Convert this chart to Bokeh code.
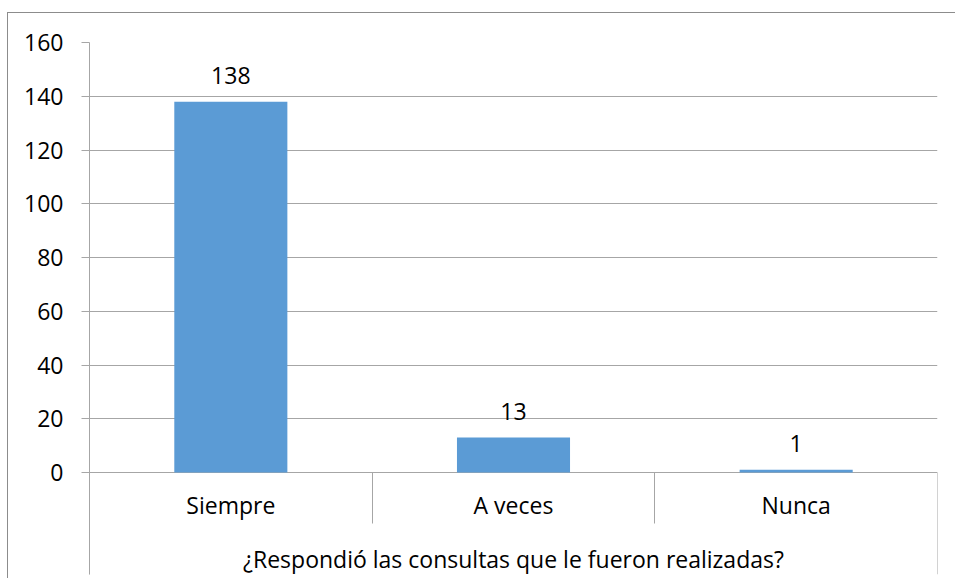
from bokeh.plotting import figure
from bokeh.models import FixedTicker, Range1d, LinearAxis, ColumnDataSource
from bokeh.core.properties import value
from bokeh.embed import file_html
from bokeh.resources import INLINE

# ---- data ----
categories = ["Siempre", "A veces", "Nunca"]
counts = [138, 13, 1]
y_ticks = [0, 20, 40, 60, 80, 100, 120, 140, 160]
axis_title = "¿Respondió las consultas que le fueron realizadas?"

# ---- layout constants (pixels) ----
FONT = "Open Sans"
FS = "23px"
GRID = "#a6a6a6"
BAR = "#5b9bd5"
W, H = 948, 566
LEFT, TOP, RIGHT, BOTTOM = 81, 29, 19, 5
PLOT_PX = 430            # pixel height of the 0..160 value area
BAND_PX = (H - TOP - BOTTOM) - PLOT_PX   # band under zero for category labels
y_max = y_ticks[-1]
y_min = -BAND_PX * y_max / PLOT_PX

n = len(categories)
centers = [i + 0.5 for i in range(n)]          # slot centres on the category scale
bounds = list(range(n + 1))                    # slot boundaries

src = ColumnDataSource(dict(x=centers, top=counts, label=[str(c) for c in counts]))

p = figure(width=W, height=H, x_range=Range1d(0, n),
           y_range=Range1d(y_min, y_max),
           output_backend="svg", toolbar_location=None,
           min_border_left=LEFT, min_border_top=TOP,
           min_border_right=RIGHT, min_border_bottom=BOTTOM)
p.styles = {"border-top": "1px solid #8c8c8c", "border-left": "1px solid #8c8c8c",
            "margin-top": "12px", "margin-left": "7px"}
p.outline_line_color = None
p.background_fill_color = "white"
p.border_fill_color = "white"

# bars
p.vbar(x="x", top="top", width=0.4, source=src, fill_color=BAR, line_color=None)

# value labels
p.text(x="x", y="top", text="label", source=src,
       text_align="center", text_baseline="alphabetic", y_offset=-26,
       text_font=value(FONT), text_font_size=FS, text_color="#000000")

# grid
p.xgrid.visible = False
p.ygrid.ticker = FixedTicker(ticks=y_ticks)
p.ygrid.grid_line_color = GRID
p.ygrid.grid_line_width = 1

# y axis
ya = p.yaxis[0]
ya.ticker = FixedTicker(ticks=y_ticks)
ya.axis_line_color = GRID
ya.major_tick_line_color = GRID
ya.major_tick_out = 8
ya.major_tick_in = 0
ya.minor_tick_line_color = None
ya.major_label_standoff = 18
ya.major_label_text_font = FONT
ya.major_label_text_font_size = FS
ya.major_label_text_color = "#000000"

# category axis, drawn at zero
xa = p.xaxis[0]
xa.fixed_location = 0
xa.ticker = FixedTicker(ticks=centers)
xa.major_label_overrides = {c: name for c, name in zip(centers, categories)}
xa.axis_line_color = None
xa.major_tick_line_color = None
xa.minor_tick_line_color = None
xa.major_tick_out = 0
xa.major_tick_in = 0
xa.major_label_standoff = 16
xa.major_label_text_font = FONT
xa.major_label_text_font_size = FS
xa.major_label_text_color = "#000000"
xa.axis_label = axis_title
xa.axis_label_standoff = 19
xa.axis_label_text_font = FONT
xa.axis_label_text_font_size = FS
xa.axis_label_text_font_style = "normal"
xa.axis_label_text_color = "#000000"

# category separators below zero
sep = LinearAxis(fixed_location=0,
                 ticker=FixedTicker(ticks=[bounds[0], bounds[-1]], minor_ticks=bounds[1:-1]))
sep.axis_line_color = None
sep.major_tick_line_color = GRID
sep.minor_tick_line_color = GRID
sep.major_tick_out = BAND_PX
sep.major_tick_in = 0
sep.minor_tick_out = 51
sep.minor_tick_in = 0
sep.major_label_overrides = {b: "" for b in [bounds[0], bounds[-1]]}
sep.major_label_text_font_size = "0px"
p.add_layout(sep, "below")

open("out.html", "w").write(file_html(p, INLINE))
